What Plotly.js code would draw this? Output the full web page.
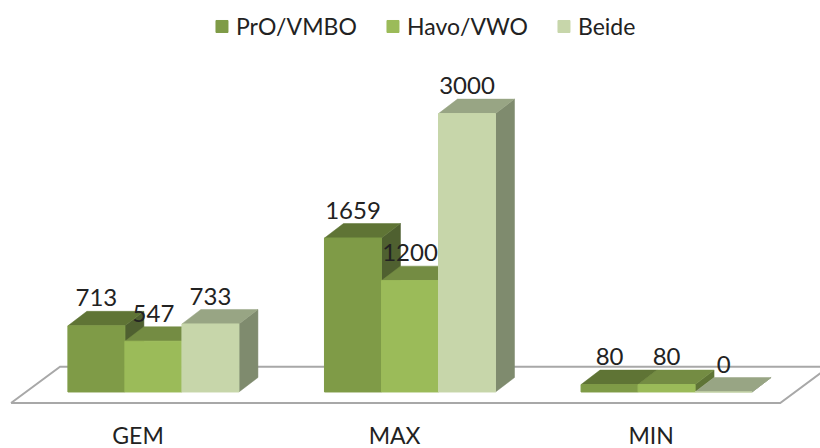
<!DOCTYPE html>
<html>
<head>
<meta charset="utf-8">
<script src="https://cdn.plot.ly/plotly-3.0.1.min.js"></script>
<style>html,body{margin:0;padding:0;background:#fff}#c{width:820px;height:448px}</style>
</head>
<body>
<div id="c"></div>
<script>
const categories = ["GEM", "MAX", "MIN"];
const seriesNames = ["PrO/VMBO", "Havo/VWO", "Beide"];
const proVmbo = [713, 1659, 80];
const havoVwo = [547, 1200, 80];
const beide = [733, 3000, 0];
const seriesValues = [proVmbo, havoVwo, beide];

const frontColors = ["#7f9b47", "#9bbb59", "#c7d6aa"];
const topColors = ["#5f7435", "#748c43", "#98a584"];
const sideColors = ["#4f6030", "#5f7436", "#7f8b6e"];

// Axis geometry (data units)
const xRange = [-0.598, 2.598];
const yRange = [-302, 3793];
const barW = 2 / 9;
const depthX = 0.074;
const depthY = 156;
const labelLift = 273;
const tickShift = -0.06;
const floorX = [-0.555, -0.364, 2.634, 2.443];
const floorY = [-119, 272, 272, -119];

const groups = categories.map((_, i) => i);
const traces = [];

// floor
traces.push({
  type: "scatter", mode: "lines", showlegend: false, hoverinfo: "skip",
  x: [floorX[0], floorX[1], floorX[2], floorX[3], floorX[0]],
  y: [floorY[0], floorY[1], floorY[2], floorY[3], floorY[0]],
  fill: "toself", fillcolor: "#ffffff",
  line: { color: "#a8a8a8", width: 2 }
});

// depth faces, back to front, left to right
seriesValues.forEach((vals, s) => {
  const sx = [], sy = [], tx = [], ty = [];
  vals.forEach((v, g) => {
    const l = groups[g] + (s - 1.5) * barW;
    const r = l + barW;
    sx.push(r, r + depthX, r + depthX, r, r, null);
    sy.push(0, depthY, v + depthY, v, 0, null);
    tx.push(l, r, r + depthX, l + depthX, l, null);
    ty.push(v, v, v + depthY, v + depthY, v, null);
  });
  traces.push({
    type: "scatter", mode: "lines", showlegend: false, hoverinfo: "skip",
    x: sx, y: sy, fill: "toself", fillcolor: sideColors[s],
    line: { color: sideColors[s], width: 0.5 }
  });
  traces.push({
    type: "scatter", mode: "lines", showlegend: false, hoverinfo: "skip",
    x: tx, y: ty, fill: "toself", fillcolor: topColors[s],
    line: { color: topColors[s], width: 0.5 }
  });
});

// front faces
seriesValues.forEach((vals, s) => {
  traces.push({
    type: "bar", name: seriesNames[s], x: groups, y: vals,
    xaxis: "x2", yaxis: "y2",
    marker: { color: frontColors[s], line: { color: frontColors[s], width: 1 } }
  });
});

// value labels
seriesValues.forEach((vals, s) => {
  traces.push({
    type: "scatter", mode: "text", showlegend: false, hoverinfo: "skip",
    xaxis: "x2", yaxis: "y2", cliponaxis: false,
    x: groups.map(g => g + (s - 1) * barW),
    y: vals.map(v => v + labelLift),
    text: vals.map(String),
    textposition: "middle center",
    textfont: { family: "Lato, sans-serif", size: 24, color: "#222222" }
  });
});

const layout = {
  width: 820, height: 448,
  margin: { l: 0, r: 0, t: 40, b: 28, pad: 0 },
  paper_bgcolor: "#ffffff", plot_bgcolor: "#ffffff",
  barmode: "group", bargap: 1 / 3, bargroupgap: 0,
  font: { family: "Lato, sans-serif", size: 23, color: "#222222" },
  xaxis: {
    range: xRange, fixedrange: true, showgrid: false, zeroline: false, showline: false,
    tickmode: "array", tickvals: groups.map(g => g + tickShift), ticktext: categories,
    ticks: "",
    tickfont: { family: "Lato, sans-serif", size: 23, color: "#222222" }
  },
  yaxis: { range: yRange, fixedrange: true, visible: false },
  xaxis2: { range: xRange, overlaying: "x", fixedrange: true, visible: false },
  yaxis2: { range: yRange, overlaying: "y", fixedrange: true, visible: false },
  legend: {
    orientation: "h", x: 0.239, xanchor: "left", y: 1.092, yanchor: "top",
    entrywidth: 126, entrywidthmode: "pixels",
    bgcolor: "rgba(0,0,0,0)", font: { family: "Lato, sans-serif", size: 23, color: "#222222" }
  },
  showlegend: true
};

Plotly.newPlot("c", traces, layout, { displayModeBar: false, staticPlot: true }).then(gd => {
  // bring the legend keys closer to their labels
  gd.querySelectorAll(".legend .legendpoints").forEach(el => el.setAttribute("transform", "translate(6,0)"));
});
</script>
</body>
</html>
